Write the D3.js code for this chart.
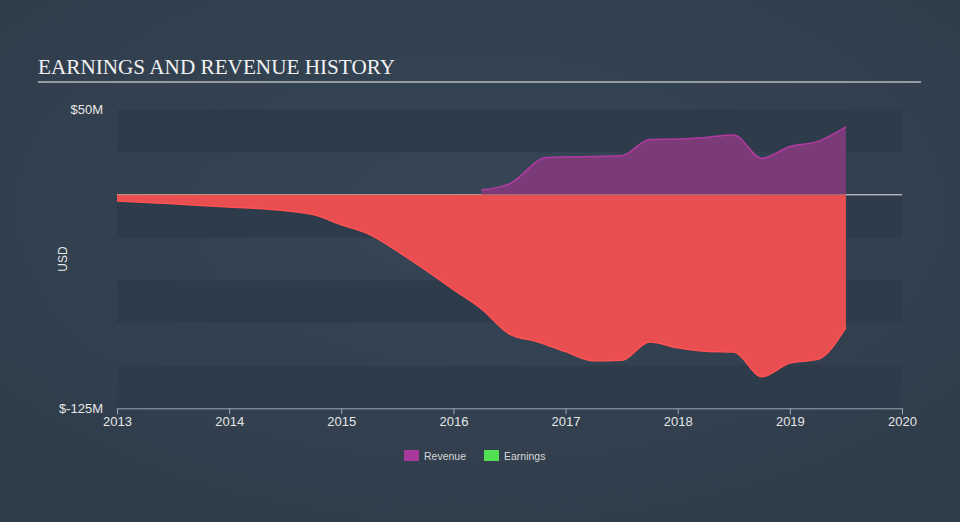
<!DOCTYPE html>
<html><head><meta charset="utf-8">
<script src="https://cdn.jsdelivr.net/npm/d3@7"></script>
<style>html,body{margin:0;padding:0;background:#334151;}svg{display:block}</style>
</head><body>
<script>
const yearTicks = [2013, 2014, 2015, 2016, 2017, 2018, 2019, 2020];
const yTickLabels = ["$50M", "$-125M"];
const yTickValues = [50, -125];

const earningsDates = [2013.0, 2013.5, 2014.0, 2014.5, 2014.75, 2015.0, 2015.25, 2015.5, 2015.75, 2016.0, 2016.25, 2016.5, 2016.75, 2017.0, 2017.25, 2017.5, 2017.75, 2018.0, 2018.25, 2018.5, 2018.75, 2019.0, 2019.25, 2019.5];
const earningsValues = [-3.6, -5.3, -7.1, -9.4, -11.6, -17.5, -23.2, -33, -44, -55.5, -66.8, -81.5, -86, -91.8, -97.2, -96.9, -86.2, -89.6, -91.6, -92.1, -106.5, -98.5, -96.3, -77.7];

const revenueDates = [2016.25, 2016.5, 2016.83, 2017.0, 2017.25, 2017.5, 2017.75, 2018.0, 2018.25, 2018.5, 2018.75, 2019.0, 2019.25, 2019.5];
const revenueValues = [2.8, 6.4, 21.8, 22.2, 22.4, 22.8, 32.4, 32.6, 33.6, 35.0, 21.3, 28.3, 31.3, 39.8];

const legendItems = [["Revenue", "#a8389c"], ["Earnings", "#52e052"]];

const W = 960, H = 522;
const svg = d3.select("body").append("svg").attr("width", W).attr("height", H);
const defs = svg.append("defs");
const rg = defs.append("radialGradient").attr("id","bg").attr("cx","50%").attr("cy","40%").attr("r","70%");
rg.append("stop").attr("offset","0%").attr("stop-color","#364657");
rg.append("stop").attr("offset","100%").attr("stop-color","#2f3c4a");
svg.append("rect").attr("width",W).attr("height",H).attr("fill","url(#bg)");

// title
svg.append("text").attr("x",38).attr("y",74).attr("fill","#f2f2f2")
  .attr("font-family","'Liberation Serif', 'DejaVu Serif', serif").attr("font-size",21.2)
  .attr("textLength", 357).attr("lengthAdjust", "spacingAndGlyphs")
  .text("EARNINGS AND REVENUE HISTORY");
svg.append("line").attr("x1",38).attr("x2",921).attr("y1",82).attr("y2",82)
  .attr("stroke","#b8bcc2").attr("stroke-width",1.5);

const x = d3.scaleLinear().domain([2013, 2020]).range([117, 902]);
const y = d3.scaleLinear().domain([-125, 50]).range([408.3, 109.4]);

// bands
const bandEdges = d3.range(50, -125, -25);
svg.append("g").selectAll("rect").data(bandEdges).join("rect")
  .attr("x", x(2013)).attr("width", x(2020) - x(2013))
  .attr("y", d => y(d)).attr("height", d => y(d - 25) - y(d))
  .attr("fill", (d, i) => i % 2 === 0 ? "#2e3b4a" : "rgba(0,0,0,0)");

// zero line
svg.append("line").attr("x1", x(2013)).attr("x2", x(2020)).attr("y1", y(0)).attr("y2", y(0))
  .attr("stroke", "#e8e8e8").attr("stroke-width", 1);

const curve = d3.curveMonotoneX;
const eData = earningsDates.map((d, i) => [d, earningsValues[i]]);
const rData = revenueDates.map((d, i) => [d, revenueValues[i]]);

svg.append("path").datum(eData)
  .attr("d", d3.area().x(d => x(d[0])).y0(y(0)).y1(d => y(d[1])).curve(curve))
  .attr("fill", "#e94e51");
svg.append("path").datum(eData)
  .attr("d", d3.line().x(d => x(d[0])).y(d => y(d[1])).curve(curve))
  .attr("fill", "none").attr("stroke", "#ff5252").attr("stroke-width", 1.5);

svg.append("path").datum(rData)
  .attr("d", d3.area().x(d => x(d[0])).y0(y(0)).y1(d => y(d[1])).curve(curve))
  .attr("fill", "#7b3a78");
svg.append("path").datum(rData)
  .attr("d", d3.line().x(d => x(d[0])).y(d => y(d[1])).curve(curve))
  .attr("fill", "none").attr("stroke", "#b23aa2").attr("stroke-width", 1.5);

// faint zero line on top
svg.append("line").attr("x1", x(2013)).attr("x2", x(2019.5)).attr("y1", y(0)).attr("y2", y(0))
  .attr("stroke", "#c08060").attr("stroke-width", 1).attr("opacity", 0.7);

// x axis
const xAxis = d3.axisBottom(x).tickValues(yearTicks).tickFormat(d3.format("d")).tickSize(6).tickPadding(2);
const gx = svg.append("g").attr("transform", `translate(0,${y(-125)})`).call(xAxis);
gx.select(".domain").attr("stroke", "#9aa6b4");
gx.selectAll(".tick line").attr("stroke", "#9aa6b4");
gx.selectAll("text").attr("fill", "#e6e6e6").attr("font-family", "'Liberation Sans', Arial, sans-serif").attr("font-size", 13);

// y labels
svg.append("g").selectAll("text").data(yTickValues).join("text")
  .attr("x", 103).attr("y", d => y(d)).attr("dy", "0.35em").attr("text-anchor", "end")
  .attr("fill", "#e6e6e6").attr("font-family", "'Liberation Sans', Arial, sans-serif").attr("font-size", 13)
  .text((d, i) => yTickLabels[i]);

svg.append("text").attr("transform", "translate(67,259) rotate(-90)").attr("text-anchor", "middle")
  .attr("fill", "#e6e6e6").attr("font-family", "'Liberation Sans', Arial, sans-serif").attr("font-size", 12)
  .text("USD");

// legend
const lg = svg.append("g");
const lx = [404, 484];
legendItems.forEach((it, i) => {
  lg.append("rect").attr("x", lx[i]).attr("y", 450).attr("width", 15).attr("height", 11).attr("fill", it[1]);
  lg.append("text").attr("x", lx[i] + 20).attr("y", 460).attr("fill", "#d8d8d8")
    .attr("font-family", "'Liberation Sans', Arial, sans-serif").attr("font-size", 10.5).text(it[0]);
});
</script>
</body></html>
